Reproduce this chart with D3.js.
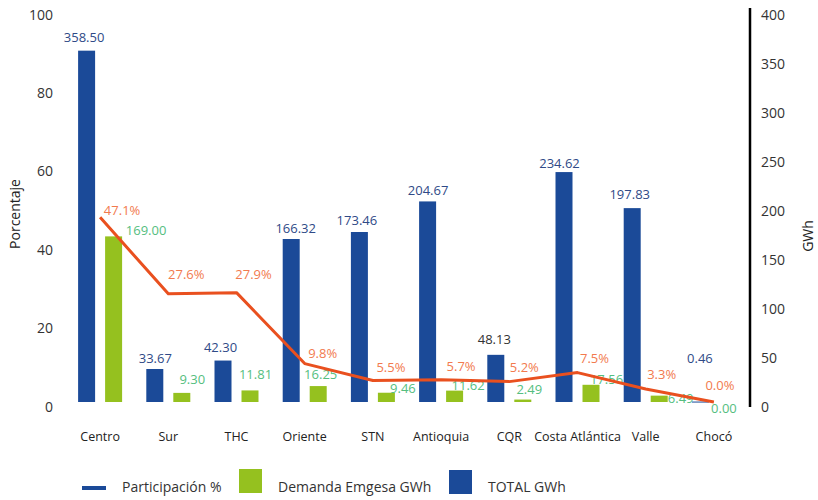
<!DOCTYPE html>
<html>
<head>
<meta charset="utf-8">
<script src="https://cdn.jsdelivr.net/npm/d3@7"></script>
<style>
  body { margin: 0; background: #fff; }
  svg text { font-family: "Open Sans", "Noto Sans", sans-serif; }
</style>
</head>
<body>
<div id="chart"></div>
<script>
// data
var categories = ["Centro", "Sur", "THC", "Oriente", "STN", "Antioquia", "CQR", "Costa Atlántica", "Valle", "Chocó"];
var totalGWh = [358.50, 33.67, 42.30, 166.32, 173.46, 204.67, 48.13, 234.62, 197.83, 0.46];
var demandaGWh = [169.00, 9.30, 11.81, 16.25, 9.46, 11.62, 2.49, 17.56, 6.49, 0.00];
var participacion = [47.1, 27.6, 27.9, 9.8, 5.5, 5.7, 5.2, 7.5, 3.3, 0.0];
var leftTicks = [0, 20, 40, 60, 80, 100];
var rightTicks = [0, 50, 100, 150, 200, 250, 300, 350, 400];

// hand placed label nudges (layout only), [dx, dy] of label centre
var nudgeTotal = [[-2.5,-13],[0.5,-11],[-2.5,-13],[4.5,-11],[-2.5,-12],[0.5,-11],[-1.5,-15],[-4.5,-9],[-2.5,-14],[-0.5,-43]];
var nudgeDemanda = [[32.5,-6],[10.5,-13],[5.5,-16],[2.5,-12],[16.5,-4],[13.5,-5.5],[6.5,-10.5],[15.5,-5],[21.5,3],[-3.5,6]];
var nudgePct = [[22,-7],[18,-19],[17,-18],[18,-10],[18,-13],[20,-13],[15,-14],[17,-14],[16,-15],[6,-17]];

var W = 818, H = 500;
var blue = "#1b4a98", green = "#95c11f", orange = "#e9501f";

var svg = d3.select("#chart").append("svg")
  .attr("width", W).attr("height", H);

var x = d3.scaleBand().domain(categories).range([66, 748]);
var xs = d3.scaleBand().domain(["total", "demanda"])
  .range([x.bandwidth() / 2 - 22, x.bandwidth() / 2 + 22])
  .paddingInner(2 - 44 / 27);
var yR = d3.scaleLinear().domain([0, 400]).range([402, 10]);
var yL = d3.scaleLinear().domain([0, 100]).range([402, 10]);

// left axis (labels only)
var gl = svg.append("g").attr("transform", "translate(53,0)")
  .call(d3.axisLeft(yL).tickValues(leftTicks).tickSize(0).tickPadding(0));
gl.select(".domain").remove();
gl.selectAll("text").attr("font-size", 14).attr("fill", "#333").attr("dy", "0.65em")
  .attr("font-family", null);

// right axis
var gr = svg.append("g").attr("transform", "translate(750,0)")
  .call(d3.axisRight(yR).tickValues(rightTicks).tickSize(0).tickPadding(11));
gr.select(".domain").attr("stroke", "#000").attr("stroke-width", 2.5)
  .attr("d", "M0,8V407");
gr.selectAll("text").attr("font-size", 14).attr("fill", "#333").attr("dy", "0.7em")
  .attr("font-family", null);

// axis titles
svg.append("text")
  .attr("transform", "translate(20,214) rotate(-90)")
  .attr("text-anchor", "middle").attr("font-size", 14).attr("fill", "#222")
  .text("Porcentaje");
svg.append("text")
  .attr("transform", "translate(813,236) rotate(-90)")
  .attr("text-anchor", "middle").attr("font-size", 14).attr("fill", "#222")
  .text("GWh");

// bars
var g = svg.selectAll(".cat").data(categories).enter().append("g")
  .attr("transform", function(d) { return "translate(" + x(d) + ",0)"; });

g.append("rect")
  .attr("x", xs("total")).attr("width", xs.bandwidth())
  .attr("y", function(d, i) { return yR(totalGWh[i]); })
  .attr("height", function(d, i) { return Math.max(yR(0) - yR(totalGWh[i]), 1); })
  .attr("fill", blue);

g.append("rect")
  .attr("x", xs("demanda")).attr("width", xs.bandwidth())
  .attr("y", function(d, i) { return yR(demandaGWh[i]); })
  .attr("height", function(d, i) { return yR(0) - yR(demandaGWh[i]); })
  .attr("fill", green);

// line
var line = d3.line()
  .x(function(d, i) { return x(categories[i]) + x.bandwidth() / 2; })
  .y(function(d) { return yL(d); });
svg.append("path").datum(participacion)
  .attr("d", line).attr("fill", "none")
  .attr("stroke", orange).attr("stroke-width", 3).attr("stroke-linejoin", "round");

// labels
g.append("text")
  .attr("x", function(d, i) { return xs("total") + xs.bandwidth() / 2 + nudgeTotal[i][0]; })
  .attr("y", function(d, i) { return yR(totalGWh[i]) + nudgeTotal[i][1]; })
  .attr("dy", "0.35em").attr("text-anchor", "middle").attr("font-size", 13)
  .attr("fill", function(d) { return d === "CQR" ? "#333" : "#2f4a87"; })
  .text(function(d, i) { return totalGWh[i].toFixed(2); });

g.append("text")
  .attr("x", function(d, i) { return xs("demanda") + xs.bandwidth() / 2 + nudgeDemanda[i][0]; })
  .attr("y", function(d, i) { return yR(demandaGWh[i]) + nudgeDemanda[i][1]; })
  .attr("dy", "0.35em").attr("text-anchor", "middle").attr("font-size", 13)
  .attr("fill", "#55be80")
  .text(function(d, i) { return demandaGWh[i].toFixed(2); });

g.append("text")
  .attr("x", function(d, i) { return x.bandwidth() / 2 + nudgePct[i][0]; })
  .attr("y", function(d, i) { return yL(participacion[i]) + nudgePct[i][1]; })
  .attr("dy", "0.35em").attr("text-anchor", "middle").attr("font-size", 13)
  .attr("fill", "#f27a4e")
  .text(function(d, i) { return participacion[i].toFixed(1) + "%"; });

// category labels
g.append("text")
  .attr("x", x.bandwidth() / 2).attr("y", 441)
  .attr("text-anchor", "middle").attr("font-size", 12.5).attr("fill", "#222")
  .text(function(d) { return d; });

// legend
var lg = svg.append("g").attr("font-size", 14).attr("fill", "#333");
lg.append("rect").attr("x", 82).attr("y", 486).attr("width", 24).attr("height", 4).attr("fill", blue);
lg.append("text").attr("x", 122).attr("y", 492).attr("fill", "#333").text("Participación %");
lg.append("rect").attr("x", 239).attr("y", 469).attr("width", 23).attr("height", 24).attr("fill", green);
lg.append("text").attr("x", 278).attr("y", 492).attr("fill", "#333").text("Demanda Emgesa GWh");
lg.append("rect").attr("x", 449).attr("y", 470).attr("width", 23).attr("height", 24).attr("fill", blue);
lg.append("text").attr("x", 488).attr("y", 492).attr("fill", "#333").text("TOTAL GWh");
</script>
</body>
</html>
